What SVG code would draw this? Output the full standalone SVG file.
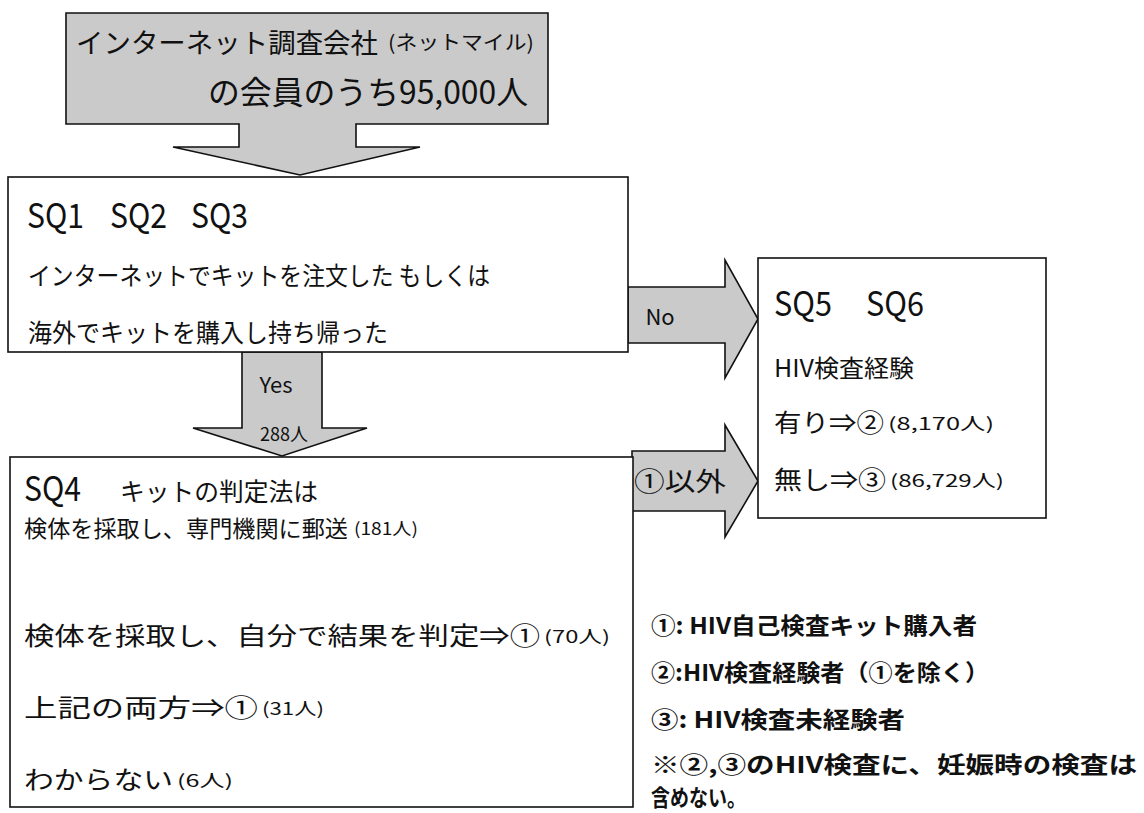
<svg xmlns="http://www.w3.org/2000/svg" width="1144" height="813" viewBox="0 0 1144 813">
<style>
.box{fill:#ffffff;stroke:#111;stroke-width:1.6}
.arr{fill:#cacaca;stroke:#111;stroke-width:1.6;stroke-linejoin:miter}
text{font-family:"Noto Sans CJK JP","Noto Sans",sans-serif;fill:#111}
.sq{font-size:34px}
.t{font-size:25px}
.s{font-size:17px}
.lg{font-size:23px;font-weight:bold}
</style>
<rect width="1144" height="813" fill="#ffffff"/>
<g id="node-top">
<path class="arr" d="M66,13 H548 V124 H356 V147 H420 L300,175 L173,147 H239 V124 H66 Z"/>
<text x="76" y="53" font-size="27.5" textLength="302" lengthAdjust="spacingAndGlyphs">インターネット調査会社</text>
<text x="388" y="50" font-size="20" textLength="146" lengthAdjust="spacingAndGlyphs">(ネットマイル)</text>
<text x="208" y="104" font-size="32" textLength="320" lengthAdjust="spacingAndGlyphs">の会員のうち95,000人</text>
</g>
<g id="connectors">
<path class="arr" d="M242,352 H322 V428 H367 L282,456 L193,428 H242 Z"/>
<text x="276" y="393" font-size="22" text-anchor="middle">Yes</text>
<text x="284" y="441" font-size="18" text-anchor="middle">288人</text>
<path class="arr" d="M628,287 H725 V260 L758,319 L725,378 V343 H628 Z"/>
<text x="660" y="325" font-size="22" text-anchor="middle">No</text>
<path class="arr" d="M632,451 H725 V425 L758,481 L725,537 V511 H632 Z"/>
<text x="634" y="491" font-size="26" textLength="92" lengthAdjust="spacingAndGlyphs">①以外</text>
</g>
<g id="node-sq1">
<rect class="box" x="8" y="177" width="620" height="175"/>
<text class="sq" x="27" y="228" textLength="57" lengthAdjust="spacingAndGlyphs">SQ1</text>
<text class="sq" x="110" y="228" textLength="57" lengthAdjust="spacingAndGlyphs">SQ2</text>
<text class="sq" x="191" y="228" textLength="57" lengthAdjust="spacingAndGlyphs">SQ3</text>
<text class="t" x="28" y="285" textLength="462" lengthAdjust="spacingAndGlyphs">インターネットでキットを注文した もしくは</text>
<text class="t" x="28" y="342" textLength="360" lengthAdjust="spacingAndGlyphs">海外でキットを購入し持ち帰った</text>
</g>
<g id="node-sq4">
<rect class="box" x="10" y="457" width="623" height="350"/>
<text class="sq" x="24" y="501" textLength="57" lengthAdjust="spacingAndGlyphs">SQ4</text>
<text class="t" x="120" y="501" textLength="198" lengthAdjust="spacingAndGlyphs">キットの判定法は</text>
<text x="24" y="537" font-size="23" textLength="324" lengthAdjust="spacingAndGlyphs">検体を採取し、専門機関に郵送</text>
<text class="s" x="354" y="535" textLength="64" lengthAdjust="spacingAndGlyphs">(181人)</text>
<text class="t" x="24" y="645" textLength="516" lengthAdjust="spacingAndGlyphs">検体を採取し、自分で結果を判定⇒①</text>
<text class="s" x="544" y="643" textLength="66" lengthAdjust="spacingAndGlyphs">(70人)</text>
<text class="t" x="24" y="717" textLength="234" lengthAdjust="spacingAndGlyphs">上記の両方⇒①</text>
<text class="s" x="262" y="715" textLength="62" lengthAdjust="spacingAndGlyphs">(31人)</text>
<text class="t" x="24" y="789" textLength="149" lengthAdjust="spacingAndGlyphs">わからない</text>
<text class="s" x="177" y="787" textLength="56" lengthAdjust="spacingAndGlyphs">(6人)</text>
</g>
<g id="node-sq5">
<rect class="box" x="758" y="258" width="288" height="260"/>
<text class="sq" x="774" y="316" textLength="58" lengthAdjust="spacingAndGlyphs">SQ5</text>
<text class="sq" x="866" y="316" textLength="58" lengthAdjust="spacingAndGlyphs">SQ6</text>
<text x="774" y="377" font-size="24" textLength="140" lengthAdjust="spacingAndGlyphs">HIV検査経験</text>
<text class="t" x="774" y="432" textLength="110" lengthAdjust="spacingAndGlyphs">有り⇒②</text>
<text class="s" x="888" y="430" textLength="106" lengthAdjust="spacingAndGlyphs">(8,170人)</text>
<text class="t" x="774" y="489" textLength="112" lengthAdjust="spacingAndGlyphs">無し⇒③</text>
<text class="s" x="890" y="487" textLength="114" lengthAdjust="spacingAndGlyphs">(86,729人)</text>
</g>
<g id="legend">
<text class="lg" x="651" y="634" textLength="326" lengthAdjust="spacingAndGlyphs">①: HIV自己検査キット購入者</text>
<text class="lg" x="651" y="681" textLength="338" lengthAdjust="spacingAndGlyphs">②:HIV検査経験者（①を除く）</text>
<text class="lg" x="651" y="728" textLength="254" lengthAdjust="spacingAndGlyphs">③: HIV検査未経験者</text>
<text class="lg" x="651" y="773" textLength="486" lengthAdjust="spacingAndGlyphs">※②,③のHIV検査に、妊娠時の検査は</text>
<text class="lg" x="651" y="806" font-size="22" textLength="95" lengthAdjust="spacingAndGlyphs">含めない。</text>
</g>
</svg>
